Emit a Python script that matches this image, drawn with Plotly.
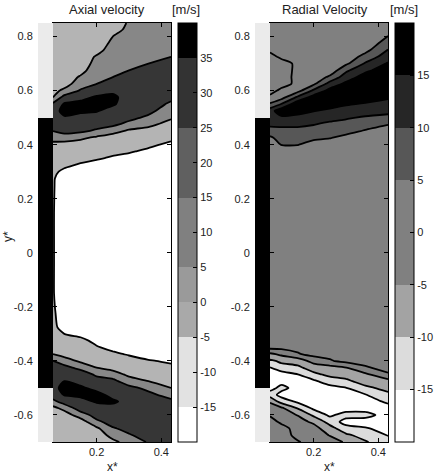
import plotly.graph_objects as go

FONT = "Liberation Sans, Arial, sans-serif"
W, H = 436, 475

# measuring grid: x* across the jet, y* along the nozzle (rows top -> bottom)
X_STAR = [0.065, 0.1, 0.15, 0.2, 0.25, 0.3, 0.36, 0.43]
Y_STAR = [0.85, 0.825, 0.8, 0.775, 0.75, 0.725, 0.7, 0.675, 0.65, 0.625,
          0.6, 0.575, 0.55, 0.525, 0.5, 0.475, 0.45, 0.425, 0.4, 0.375,
          0.35, 0.325, 0.3, 0.275, 0.25, 0.15, 0.05, -0.05, -0.15, -0.2,
          -0.225, -0.25, -0.275, -0.3, -0.325, -0.35, -0.375, -0.4, -0.425, -0.45,
          -0.475, -0.5, -0.525, -0.55, -0.575, -0.6, -0.625, -0.65, -0.675, -0.7]

# axial velocity [m/s], one row per Y_STAR, one column per X_STAR
AXIAL = [
    [10, 10, 10, 10, 10, 16, 18, 19],
    [10, 10, 10, 10, 12, 17, 19, 20],
    [10, 10, 10, 10, 15, 18, 20, 21],
    [10, 10, 10, 10, 17, 19, 21, 22],
    [10, 10, 10, 12, 19, 20, 22, 23],
    [10, 10, 10, 16, 20, 21, 23, 25],
    [10, 10, 10, 18, 21, 23, 25, 28],
    [10, 10, 12, 20, 23, 25, 28, 30],
    [10, 10, 16, 22, 25, 28, 30, 31],
    [11, 11, 20, 25, 30, 31, 32, 32],
    [12, 17, 26, 31, 34, 34, 33, 31],
    [15, 29, 33, 36, 36, 33, 32, 28],
    [27, 36, 37, 38, 36, 31, 31, 23],
    [31, 38, 36, 35.5, 32, 30, 28, 19],
    [33, 34, 33, 32, 30, 28, 23, 16],
    [31, 30, 30, 30, 27, 22, 17, 12],
    [25, 28, 27, 23, 19, 13, 12, 10],
    [19, 20, 17, 13, 9, 10, 10, 7],
    [12, 11, 10, 10, 8, 9, 7, 3],
    [10, 10, 10, 9, 7, 6, 3, 0],
    [10, 9, 8, 6, 4, 2, 0, 0],
    [9, 7, 4, 2, 0, 0, 0, 0],
    [7, 3, 0, 0, 0, 0, 0, 0],
    [6, 0, 0, 0, 0, 0, 0, 0],
    [5.8, 0, 0, 0, 0, 0, 0, 0],
    [5.5, 0, 0, 0, 0, 0, 0, 0],
    [5.5, 0, 0, 0, 0, 0, 0, 0],
    [5.5, 0, 0, 0, 0, 0, 0, 0],
    [5.5, 0, 0, 0, 0, 0, 0, 0],
    [6, 0, 0, 0, 0, 0, 0, 0],
    [6.5, 0, 0, 0, 0, 0, 0, 0],
    [7, 0, 0, 0, 0, 0, 0, 0],
    [7.5, 1, 0, 0, 0, 0, 0, 0],
    [9, 5, 2, 0, 0, 0, 0, 0],
    [10, 9, 8, 2, 0, 0, 0, 0],
    [11, 10, 10, 6, 2, 0, 0, 0],
    [15, 11, 10, 9, 7, 4, 0, 0],
    [25, 20, 13, 10, 10, 9, 6, 3],
    [30, 28, 22, 15, 12, 10, 9, 8],
    [32, 32, 31, 23, 19, 13, 10, 10],
    [33, 35, 33, 30, 28, 19, 15, 12],
    [33, 37, 36, 33, 31, 28, 22, 15],
    [31, 35.5, 37, 37, 33, 31, 28, 20],
    [22, 30, 32, 36, 36, 33, 31, 28],
    [12, 18, 30, 31, 33, 34, 33, 31],
    [10, 10, 20, 29, 31, 32, 33, 32],
    [10, 10, 10, 23, 29, 30, 32, 32],
    [10, 10, 10, 13, 24, 28, 31, 31],
    [10, 10, 10, 10, 18, 24, 29, 30],
    [10, 10, 10, 10, 13, 18, 26, 29],
]

# radial velocity [m/s], same grid
RADIAL = [
    [1.5, 1.5, 1.5, 1.5, 1.5, 1.5, 1.5, 1.5],
    [1.5, 1.5, 1.5, 1.5, 1.5, 1.5, 1.5, 2.5],
    [1.5, 1.5, 1.5, 1.5, 1.5, 1.5, 1.5, 5.2],
    [1.5, 1.5, 1.5, 1.5, 1.5, 1.5, 1.5, 7.5],
    [1.5, 1.5, 1.5, 1.5, 1.5, 1.5, 3.5, 10.2],
    [-2.5, 1.5, 1.5, 1.5, 1.5, 1.5, 7, 12.5],
    [-2.5, -3, 1.5, 1.5, 1.5, 4, 10.5, 15.5],
    [-2.5, -3, 1.5, 1.5, 1.5, 9, 14, 17.5],
    [-2.5, -2.5, 1.5, 1.5, 6, 12.5, 17, 18],
    [-2.5, -2.5, 1.5, 4, 12, 16, 18, 18],
    [-2.5, 1.5, 3, 11, 16.5, 18, 18, 17.5],
    [1.5, 3, 11, 17, 18, 17.5, 17, 15.5],
    [5.5, 10.2, 18, 18, 17, 15.5, 14.5, 13.5],
    [13, 18, 18, 15.2, 14, 13, 12, 11],
    [14, 14, 12.5, 12.5, 11.5, 10.5, 9.5, 9],
    [11, 11, 11, 10.2, 9, 8.5, 7, 5.2],
    [8, 8.5, 8.5, 8, 7.5, 6.5, 4.5, 2],
    [4, 7, 7, 6, 5.2, 3.5, 2, 1.5],
    [1.5, 5.2, 5.2, 3, 2, 1.5, 1.5, 1.5],
    [1.5, 2, 2, 1.5, 1.5, 1.5, 1.5, 1.5],
    [1.5, 1.5, 1.5, 1.5, 1.5, 1.5, 1.5, 1.5],
    [1.5, 1.5, 1.5, 1.5, 1.5, 1.5, 1.5, 1.5],
    [1.5, 1.5, 1.5, 1.5, 1.5, 1.5, 1.5, 1.5],
    [1.5, 1.5, 1.5, 1.5, 1.5, 1.5, 1.5, 1.5],
    [1.5, 1.5, 1.5, 1.5, 1.5, 1.5, 1.5, 1.5],
    [1.5, 1.5, 1.5, 1.5, 1.5, 1.5, 1.5, 1.5],
    [1.5, 1.5, 1.5, 1.5, 1.5, 1.5, 1.5, 1.5],
    [1.5, 1.5, 1.5, 1.5, 1.5, 1.5, 1.5, 1.5],
    [1.5, 1.5, 1.5, 1.5, 1.5, 1.5, 1.5, 1.5],
    [1.5, 1.5, 1.5, 1.5, 1.5, 1.5, 1.5, 1.5],
    [1.5, 1.5, 1.5, 1.5, 1.5, 1.5, 1.5, 1.5],
    [1.5, 1.5, 1.5, 1.5, 1.5, 1.5, 1.5, 1.5],
    [1.5, 1.5, 1.5, 1.5, 1.5, 1.5, 1.5, 1.5],
    [1.5, 1.5, 1.5, 1.5, 1.5, 1.5, 1.5, 1.5],
    [1.5, 1.5, 1.5, 1.5, 1.5, 1.5, 1.5, 1.5],
    [1.5, 1.5, 1.5, 1.5, 1.5, 1.5, 1.5, 1.5],
    [-6, -4, -0.5, 1.5, 1.5, 1.5, 1.5, 1.5],
    [-11, -9, -8, -3, -0.5, 1.5, 1.5, 1.5],
    [-15.2, -12, -11, -8, -7, -5.2, -0.5, 1.5],
    [-17.5, -17.5, -15.2, -11, -9, -8, -6, -0.5],
    [-17.5, -17.5, -17.5, -16, -12, -11, -8, -7],
    [-17.5, -13, -17.5, -17.5, -17, -15.2, -11, -8.5],
    [-12, -17, -17.5, -17.5, -17.5, -17.5, -15.2, -11],
    [-6, -12, -16, -17.5, -17.5, -17.5, -17.5, -14],
    [-1, -4, -10.2, -16, -17.5, -17.5, -17.5, -17],
    [-0.5, -2.5, -5.2, -11, -16, -13, -13, -17.5],
    [2, -1, -3, -6, -12, -17, -17.5, -17.5],
    [2.5, 2, -2, -3, -8, -13, -14.5, -17],
    [2.5, 2.5, -1.5, -2.5, -5.2, -9, -12, -15.2],
    [2.5, 2.5, 0.5, -2, -3, -5.5, -9.5, -13],
]

# contour levels (start, end, step) and the fill shade of each band, low -> high
AXIAL_LEVELS = (5, 35, 10)
AXIAL_FILL = ["#ffffff", "#b4b4b4", "#878787", "#363636", "#000000"]
RADIAL_LEVELS = (-15, 15, 5)
RADIAL_FILL = ["#ffffff", "#dcdcdc", "#a3a3a3", "#808080", "#808080",
               "#575757", "#262626", "#000000"]

# colour bars as printed next to each panel
AXIAL_CB_EDGES = [-20, -15, -5, 0, 5, 15, 25, 35, 40]
AXIAL_CB_COLORS = ["#ffffff", "#e2e2e2", "#a9a9a9", "#9a9a9a", "#808080",
                   "#606060", "#333333", "#000000"]
AXIAL_CB_TICKS = [-15, -10, -5, 0, 5, 10, 15, 20, 25, 30, 35]
RADIAL_CB_EDGES = [-20, -15, -10, -5, 5, 10, 15, 20]
RADIAL_CB_COLORS = ["#ffffff", "#dcdcdc", "#a3a3a3", "#808080", "#575757",
                    "#262626", "#000000"]
RADIAL_CB_TICKS = [-15, -10, -5, 0, 5, 10, 15]

# nozzle wall drawn left of each field
NOZZLE_X = [0.02, 0.065]
NOZZLE_Y = [-0.7, -0.5, 0.5, 0.85]
NOZZLE_SHADE = [1, 0, 1]

X_TICKS = [0.2, 0.4]
Y_TICKS = [-0.6, -0.4, -0.2, 0, 0.2, 0.4, 0.6, 0.8]


def fx(px):
    # screen pixel -> paper fraction
    return px / W


def fy(py):
    return 1 - py / H


def even_scale(colors):
    return [[i / (len(colors) - 1), c] for i, c in enumerate(colors)]


def step_scale(edges, colors):
    lo, hi = edges[0], edges[-1]
    scale = []
    for a, b, c in zip(edges[:-1], edges[1:], colors):
        scale.append([(a - lo) / (hi - lo), c])
        scale.append([(b - lo) / (hi - lo), c])
    return scale


def add_panel(fig, z, levels, fill, cb_edges, cb_colors, cb_ticks, xa, ya, xn, cb_left):
    # nozzle wall (black inside, light grey outside)
    fig.add_trace(go.Heatmap(
        x=NOZZLE_X, y=NOZZLE_Y, z=[[v] for v in NOZZLE_SHADE],
        colorscale=[[0, "#000000"], [1, "#ebebeb"]], zmin=0, zmax=1,
        showscale=False, hoverinfo="skip", xaxis=xn, yaxis=ya,
    ))

    start, end, size = levels
    fig.add_trace(go.Contour(
        x=X_STAR, y=Y_STAR[::-1], z=z[::-1],
        contours=dict(start=start, end=end, size=size, coloring="fill", showlines=True),
        line=dict(color="black", width=1.8, smoothing=0.7),
        colorscale=even_scale(fill), showscale=False, hoverinfo="skip",
        xaxis=xa, yaxis=ya,
    ))

    # colour bar carried by an empty marker trace
    fig.add_trace(go.Scatter(
        x=[None], y=[None], mode="markers", showlegend=False, hoverinfo="skip",
        marker=dict(
            color=[cb_edges[0], cb_edges[-1]], cmin=cb_edges[0], cmax=cb_edges[-1],
            colorscale=step_scale(cb_edges, cb_colors), showscale=True,
            colorbar=dict(
                x=fx(cb_left), xanchor="left", y=fy(232.5), yanchor="middle",
                len=419 / H, lenmode="fraction", thickness=19, xpad=0, ypad=0,
                outlinecolor="black", outlinewidth=1,
                tickvals=cb_ticks, ticktext=[f"{v:g}" for v in cb_ticks],
                ticks="inside", ticklen=4, tickcolor="black",
                tickfont=dict(family=FONT, size=11, color="#222222"),
            ),
        ),
        xaxis=xn, yaxis=ya,
    ))


fig = go.Figure()
add_panel(fig, AXIAL, AXIAL_LEVELS, AXIAL_FILL, AXIAL_CB_EDGES, AXIAL_CB_COLORS,
          AXIAL_CB_TICKS, "x", "y", "x3", 178)
add_panel(fig, RADIAL, RADIAL_LEVELS, RADIAL_FILL, RADIAL_CB_EDGES, RADIAL_CB_COLORS,
          RADIAL_CB_TICKS, "x2", "y2", "x4", 395)

frame = dict(showline=True, linecolor="black", linewidth=1, mirror="ticks",
             ticks="inside", ticklen=4, tickcolor="black",
             showgrid=False, zeroline=False,
             tickfont=dict(family=FONT, size=11, color="#222222"))
y_dom = [fy(442), fy(23)]

fig.update_layout(
    width=W, height=H,
    margin=dict(l=0, r=0, t=0, b=0, autoexpand=False),
    paper_bgcolor="white", plot_bgcolor="white",
    showlegend=False, hovermode=False,
    font=dict(family=FONT, size=11, color="#222222"),
    xaxis=dict(frame, domain=[fx(53), fx(171)], range=[0.065, 0.43], anchor="y",
               tickvals=X_TICKS, ticktext=[f"{v:g}" for v in X_TICKS]),
    yaxis=dict(frame, domain=y_dom, range=[-0.7, 0.85], anchor="x",
               tickvals=Y_TICKS, ticktext=[f"{v:g}" for v in Y_TICKS],
               ticklabelstandoff=17),
    xaxis2=dict(frame, domain=[fx(270), fx(388)], range=[0.065, 0.43], anchor="y2",
                tickvals=X_TICKS, ticktext=[f"{v:g}" for v in X_TICKS]),
    yaxis2=dict(frame, domain=y_dom, range=[-0.7, 0.85], anchor="x2",
                tickvals=Y_TICKS, ticktext=[f"{v:g}" for v in Y_TICKS],
                ticklabelstandoff=17),
    xaxis3=dict(domain=[fx(38), fx(53)], range=[0.02, 0.065], anchor="y", visible=False),
    xaxis4=dict(domain=[fx(255), fx(270)], range=[0.02, 0.065], anchor="y2", visible=False),
)

labels = [
    ("Axial velocity", 107, 10, 0),
    ("[m/s]", 186, 10, 0),
    ("Radial Velocity", 325, 10, 0),
    ("[m/s]", 404, 10, 0),
    ("x*", 112, 467, 0),
    ("x*", 329, 467, 0),
    ("y*", 8, 237, -90),
]
for text, px, py, angle in labels:
    fig.add_annotation(
        text=text, x=fx(px), y=fy(py), xref="paper", yref="paper",
        xanchor="center", yanchor="middle", showarrow=False, textangle=angle,
        font=dict(family=FONT, size=13 if angle == 0 and py < 20 else 12, color="#222222"),
    )

# drop the browser's default body margin so the figure fills the window
fig.write_html("out.html", config={"displayModeBar": False, "staticPlot": True},
               post_script="document.body.style.margin = '0';")
